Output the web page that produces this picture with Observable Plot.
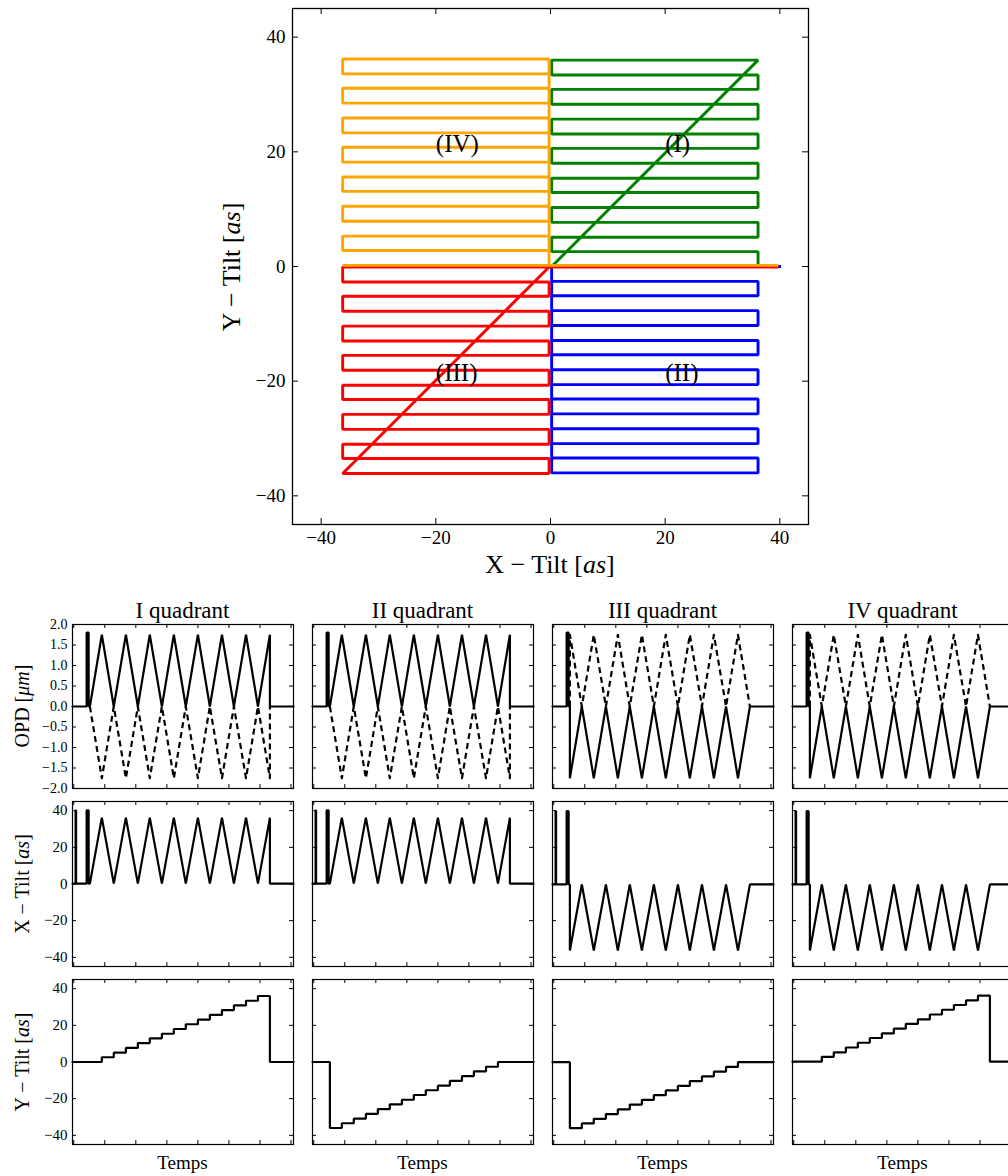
<!DOCTYPE html>
<html><head><meta charset="utf-8">
<script src="https://cdn.jsdelivr.net/npm/d3@7"></script>
<script src="https://cdn.jsdelivr.net/npm/@observablehq/plot@0.6"></script>
<style>
html,body{margin:0;padding:0;background:#fff;overflow:hidden;}
#fig{position:relative;width:1008px;height:1176px;overflow:hidden;font-family:"Liberation Serif","Times New Roman",serif;color:#000;}
.lbl{position:absolute;white-space:nowrap;line-height:1;}
#fig svg{position:absolute;}
</style></head><body><div id="fig"></div><script>
// ---------- data ----------
const quadrantTitles = ["I quadrant", "II quadrant", "III quadrant", "IV quadrant"];
const quadrantTags = ["(I)", "(II)", "(III)", "(IV)"];
const quadrantColors = ["#008000", "#0000ff", "#ff0000", "#ffa500"];
const tagX = [20, 20, -20, -20];
const tagY = [20, -20, -20, 20];

const rowLevels = [0, 2.6, 5.1, 7.7, 10.3, 12.9, 15.4, 18.0, 20.6, 23.1, 25.7, 28.3, 30.9, 33.4, 36.0];
// rows above (0) or below (-36) the X axis
const rowBase = [0, -36, -36, 0];
// X-tilt (as) at the end of even / odd rows
const xEvenTurn = [36, 36, 0, 0];
const xOddTurn = [0, 0, -36, -36];
// OPD (µm) at the end of even / odd rows
const opdEvenTurn = [1.75, 1.75, 0, 0];
const opdOddTurn = [0, 0, -1.75, -1.75];
// small offsets of each trace seen in the scan map (as)
const offX = [0.2, 0.2, -0.25, -0.25];
const offY = [0, 0, -0.1, 0.2];
const xSpike = 40;       // X-tilt excursion before the scan (as)
const opdSpike = 1.8;    // OPD excursion (µm)

// time (samples)
const timeRange = [-40, 7080];
const timeTicks = [0, 1000, 2000, 3000, 4000, 5000, 6000, 7000];
const spike1 = [60, 75];
const spike2 = [415, 480];
const scanStart = 520;
const turnTimes = [905, 1290, 1680, 2065, 2450, 2840, 3225, 3610, 4000, 4385, 4775, 5160, 5550, 5935, 6320];

const opdTicks = [-2, -1.5, -1, -0.5, 0, 0.5, 1, 1.5, 2];
const tiltTicks = [-40, -20, 0, 20, 40];
const mapTicks = [-40, -20, 0, 20, 40];

// ---------- build the traces ----------
function scanPath(q) {
  const P = (t, x, y, opd) => ({t, x: x + offX[q], y: y + offY[q], opd});
  const pre = [
    P(timeRange[0], 0, 0, 0),
    P(spike1[0], 0, 0, 0), P(spike1[0], xSpike, 0, 0), P(spike1[1], xSpike, 0, 0), P(spike1[1], 0, 0, 0),
    P(spike2[0], 0, 0, 0), P(spike2[0], xSpike, 0, opdSpike), P(spike2[1], xSpike, 0, opdSpike), P(spike2[1], 0, 0, 0),
    P(scanStart, 0, 0, 0)
  ];
  const scan = [P(scanStart, xOddTurn[q], rowBase[q] + rowLevels[0], opdOddTurn[q])];
  turnTimes.forEach((tt, k) => {
    const even = k % 2 === 0;
    const x = even ? xEvenTurn[q] : xOddTurn[q];
    const o = even ? opdEvenTurn[q] : opdOddTurn[q];
    scan.push(P(tt, x, rowBase[q] + rowLevels[k], o));
    if (k + 1 < rowLevels.length) scan.push(P(tt, x, rowBase[q] + rowLevels[k + 1], o));
  });
  const last = turnTimes[turnTimes.length - 1];
  const post = [P(last, 0, 0, 0), P(timeRange[1], 0, 0, 0)];
  const path = [...pre, ...scan, ...post];
  const dashed = [P(scanStart, 0, 0, 0), ...scan.map(d => ({...d, opd: -d.opd})), P(last, 0, 0, 0)];
  return {path, dashed};
}
const traces = quadrantTitles.map((_, q) => scanPath(q));

// ---------- layout ----------
const fig = document.getElementById("fig");
const FONT = '"Liberation Serif","Times New Roman",serif';
function label(html, cx, cy, size, rotate) {
  const d = document.createElement("div");
  d.className = "lbl";
  d.innerHTML = html;
  d.style.left = cx + "px";
  d.style.top = cy + "px";
  d.style.fontSize = size + "px";
  d.style.transform = "translate(-50%,-50%)" + (rotate ? " rotate(-90deg)" : "");
  fig.appendChild(d);
}
function place(svg, left, top) {
  svg.style.left = left + "px";
  svg.style.top = top + "px";
  fig.appendChild(svg);
}

// ---------- top scan map ----------
{
  const W = 1008, H = 580, ml = 292, mr = 200, mt = 8, mb = 56;
  const fw = W - ml - mr, fh = H - mt - mb, tk = 6;
  const fmt = d3.format("d");
  const svg = Plot.plot({
    width: W, height: H, marginLeft: ml, marginRight: mr, marginTop: mt, marginBottom: mb,
    x: {domain: [-45, 45], axis: null},
    y: {domain: [-45, 45], axis: null},
    style: {background: "transparent", fontFamily: FONT, overflow: "visible"},
    marks: [
      ...traces.map((tr, q) => Plot.line(tr.path, {x: "x", y: "y", stroke: quadrantColors[q], strokeWidth: 2.9, strokeLinejoin: "miter", strokeLinecap: "butt"})),
      Plot.text(quadrantTags.map((s, q) => ({s, x: tagX[q], y: tagY[q]})), {x: "x", y: "y", text: "s", textAnchor: "start", lineAnchor: "bottom", fontSize: 25}),
      Plot.tickX(mapTicks, {x: d => d, insetTop: fh - tk, stroke: "black"}),
      Plot.tickX(mapTicks, {x: d => d, insetBottom: fh - tk, stroke: "black"}),
      Plot.tickY(mapTicks, {y: d => d, insetRight: fw - tk, stroke: "black"}),
      Plot.tickY(mapTicks, {y: d => d, insetLeft: fw - tk, stroke: "black"}),
      Plot.text(mapTicks, {x: d => d, frameAnchor: "bottom", lineAnchor: "top", dy: 6, text: d => fmt(d), fontSize: 19}),
      Plot.text(mapTicks, {y: d => d, frameAnchor: "left", textAnchor: "end", dx: -7, text: d => fmt(d), fontSize: 19}),
      Plot.frame({stroke: "black", strokeWidth: 1.3})
    ]
  });
  place(svg, 0, 0);
  label("X − Tilt [<i>as</i>]", 550, 565, 26, false);
  label("Y − Tilt [<i>as</i>]", 232, 267, 26, true);
}

// ---------- small panels ----------
const colLeft = [72, 312, 552, 792];
const rowTop = [624, 801, 979];
const rowHeight = [164, 165, 165];
const panelWidth = 221;
const rowYLabels = ["OPD [<i>μm</i>]", "X − Tilt [<i>as</i>]", "Y − Tilt [<i>as</i>]"];

for (let row = 0; row < 3; row++) {
  for (let col = 0; col < 4; col++) {
    const tr = traces[col];
    const W = panelWidth, H = rowHeight[row];
    const ml = col === 0 ? 62 : 3, m = 3, tk = 4;
    const yDomain = row === 0 ? [-2, 2] : [-45, 45];
    const yTicks = row === 0 ? opdTicks : tiltTicks;
    const fmt = row === 0 ? d3.format(".1f") : d3.format("d");
    const marks = [];
    if (row === 0) {
      marks.push(Plot.line(tr.dashed, {x: "t", y: "opd", stroke: "black", strokeWidth: 2.2, strokeDasharray: "6,4", strokeLinecap: "butt"}));
      marks.push(Plot.line(tr.path, {x: "t", y: "opd", stroke: "black", strokeWidth: 2.2, strokeLinejoin: "miter"}));
    } else {
      marks.push(Plot.line(tr.path, {x: "t", y: row === 1 ? "x" : "y", stroke: "black", strokeWidth: 2.2, strokeLinejoin: "miter"}));
    }
    marks.push(
      Plot.tickX(timeTicks, {x: d => d, insetTop: H - tk, stroke: "black"}),
      Plot.tickX(timeTicks, {x: d => d, insetBottom: H - tk, stroke: "black"}),
      Plot.tickY(yTicks, {y: d => d, insetRight: W - tk, stroke: "black"}),
      Plot.tickY(yTicks, {y: d => d, insetLeft: W - tk, stroke: "black"}),
      Plot.frame({stroke: "black", strokeWidth: 1.2})
    );
    if (col === 0) {
      marks.push(Plot.text(yTicks, {y: d => d, frameAnchor: "left", textAnchor: "end", dx: -5, text: d => fmt(d), fontSize: row === 0 ? 14 : 15}));
    }
    const svg = Plot.plot({
      width: W + ml + m, height: H + 2 * m,
      marginLeft: ml, marginRight: m, marginTop: m, marginBottom: m,
      x: {domain: timeRange, axis: null},
      y: {domain: yDomain, axis: null},
      style: {background: "transparent", fontFamily: FONT, overflow: "visible"},
      marks
    });
    place(svg, colLeft[col] - ml, rowTop[row] - m);
  }
}
quadrantTitles.forEach((t, col) => label(t, colLeft[col] + panelWidth / 2, 610, 23, false));
colLeft.forEach(x => label("Temps", x + panelWidth / 2, 1162, 19, false));
rowYLabels.forEach((s, row) => label(s, 22, rowTop[row] + rowHeight[row] / 2, 20, true));
</script></body></html>
